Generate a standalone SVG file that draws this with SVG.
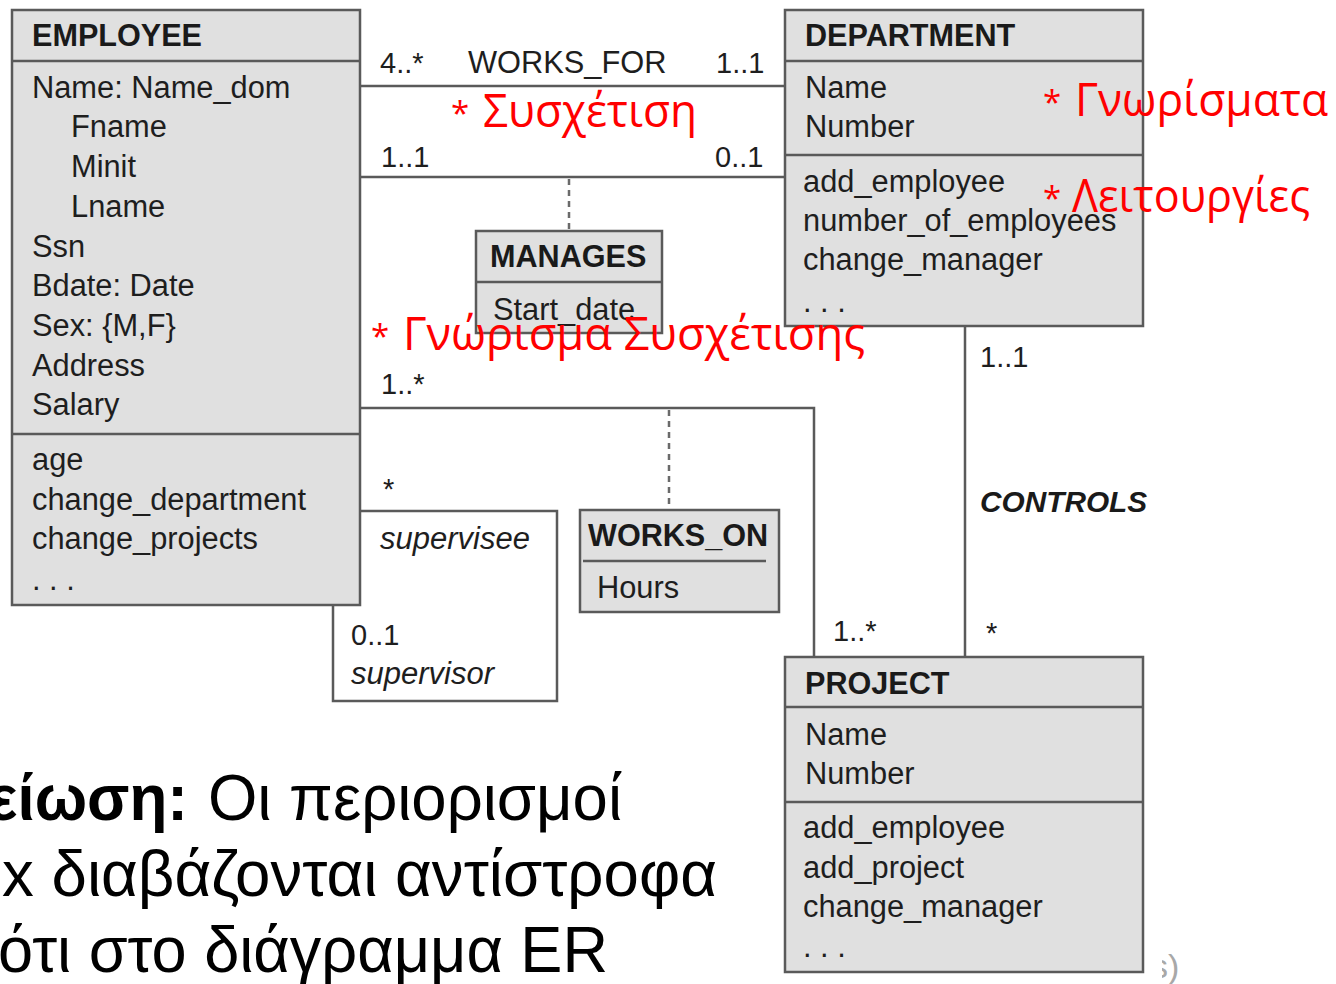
<svg xmlns="http://www.w3.org/2000/svg" width="1336" height="984" viewBox="0 0 1336 984">
  <defs>
    <style>
      .box { fill: #e0e0e0; stroke: #5a5a5a; stroke-width: 2.5; }
      .div { stroke: #5a5a5a; stroke-width: 2.5; fill: none; }
      .wire { stroke: #5a5a5a; stroke-width: 2.5; fill: none; }
      .dash { stroke: #6a6a6a; stroke-width: 2.5; fill: none; stroke-dasharray: 6 5; }
      .t { font-family: "Liberation Sans", Arial, sans-serif; font-size: 30.8px; fill: #1e1e1e; }
      .title { font-family: "Liberation Sans", Arial, sans-serif; font-size: 30.6px; font-weight: bold; fill: #1a1a1a; }
      .m { font-family: "Liberation Sans", Arial, sans-serif; font-size: 29px; fill: #1e1e1e; }
      .it { font-family: "Liberation Sans", Arial, sans-serif; font-size: 31px; font-style: italic; fill: #1e1e1e; }
      .bi { font-family: "Liberation Sans", Arial, sans-serif; font-size: 29.8px; font-style: italic; font-weight: bold; fill: #1a1a1a; }
      .red { font-family: "Open Sans", "Noto Sans", sans-serif; font-size: 46px; fill: #ff0000; }
      .star { font-family: "Open Sans", "Noto Sans", sans-serif; font-size: 33px; fill: #ff0000; }
      .note { font-family: "Liberation Sans", Arial, sans-serif; font-size: 65px; fill: #000; }
      .noteb { font-family: "Liberation Sans", Arial, sans-serif; font-size: 65px; font-weight: bold; fill: #000; }
    </style>
    <clipPath id="clipTail">
      <rect x="1162" y="900" width="60" height="84"/>
    </clipPath>
  </defs>

  <rect width="1336" height="984" fill="#ffffff"/>

  <!-- connectors -->
  <g id="connectors">
    <line class="wire" x1="360" y1="86" x2="785" y2="86"/>
    <line class="wire" x1="360" y1="177" x2="785" y2="177"/>
    <line class="dash" x1="569" y1="179" x2="569" y2="231"/>
    <polyline class="wire" points="360,408 814,408 814,657"/>
    <line class="dash" x1="669" y1="410" x2="669" y2="510"/>
    <line class="wire" x1="965" y1="326" x2="965" y2="657"/>
    <polyline class="wire" points="360,511 557,511 557,701 333,701 333,605"/>

    <text class="m" x="380" y="73">4..*</text>
    <text class="t" x="468" y="73" font-size="32.5">WORKS_FOR</text>
    <text class="m" x="716" y="73">1..1</text>
    <text class="m" x="381" y="167">1..1</text>
    <text class="m" x="715" y="167">0..1</text>
    <text class="m" x="381" y="394">1..*</text>
    <text class="m" x="383" y="499">*</text>
    <text class="it" x="380" y="549">supervisee</text>
    <text class="m" x="351" y="645">0..1</text>
    <text class="it" x="351" y="684">supervisor</text>
    <text class="m" x="833" y="641">1..*</text>
    <text class="m" x="980" y="367">1..1</text>
    <text class="bi" x="980" y="512">CONTROLS</text>
    <text class="m" x="986" y="643">*</text>
  </g>

  <!-- EMPLOYEE class -->
  <g id="employee">
    <rect class="box" x="12" y="10" width="348" height="595"/>
    <line class="div" x1="12" y1="61" x2="360" y2="61"/>
    <line class="div" x1="12" y1="434" x2="360" y2="434"/>
    <text class="title" x="32" y="46">EMPLOYEE</text>
    <text class="t" x="32" y="98">Name: Name_dom</text>
    <text class="t" x="71" y="137">Fname</text>
    <text class="t" x="71" y="177">Minit</text>
    <text class="t" x="71" y="217">Lname</text>
    <text class="t" x="32" y="257">Ssn</text>
    <text class="t" x="32" y="296">Bdate: Date</text>
    <text class="t" x="32" y="336">Sex: {M,F}</text>
    <text class="t" x="32" y="376">Address</text>
    <text class="t" x="32" y="415">Salary</text>
    <text class="t" x="32" y="470">age</text>
    <text class="t" x="32" y="510">change_department</text>
    <text class="t" x="32" y="549">change_projects</text>
    <text class="t" x="32" y="590">. . .</text>
  </g>

  <!-- DEPARTMENT class -->
  <g id="department">
    <rect class="box" x="785" y="10" width="358" height="316"/>
    <line class="div" x1="785" y1="61" x2="1143" y2="61"/>
    <line class="div" x1="785" y1="155" x2="1143" y2="155"/>
    <text class="title" x="805" y="46">DEPARTMENT</text>
    <text class="t" x="805" y="98">Name</text>
    <text class="t" x="805" y="137">Number</text>
    <text class="t" x="803" y="192">add_employee</text>
    <text class="t" x="803" y="231">number_of_employees</text>
    <text class="t" x="803" y="270">change_manager</text>
    <text class="t" x="803" y="312">. . .</text>
  </g>

  <!-- PROJECT class -->
  <g id="project">
    <rect class="box" x="785" y="657" width="358" height="315"/>
    <line class="div" x1="785" y1="707" x2="1143" y2="707"/>
    <line class="div" x1="785" y1="802" x2="1143" y2="802"/>
    <text class="title" x="805" y="694">PROJECT</text>
    <text class="t" x="805" y="745">Name</text>
    <text class="t" x="805" y="784">Number</text>
    <text class="t" x="803" y="838">add_employee</text>
    <text class="t" x="803" y="878">add_project</text>
    <text class="t" x="803" y="917">change_manager</text>
    <text class="t" x="803" y="957">. . .</text>
  </g>

  <!-- MANAGES association class -->
  <g id="manages">
    <rect class="box" x="476" y="231" width="186" height="102"/>
    <line class="div" x1="476" y1="282" x2="662" y2="282"/>
    <text class="title" x="490" y="267">MANAGES</text>
    <text class="t" x="493" y="320">Start_date</text>
  </g>

  <!-- WORKS_ON association class -->
  <g id="works_on">
    <rect class="box" x="580" y="510" width="199" height="102"/>
    <line class="div" x1="583" y1="561" x2="766" y2="561"/>
    <text class="title" x="588" y="546">WORKS_ON</text>
    <text class="t" x="597" y="598">Hours</text>
  </g>

  <!-- annotations -->
  <g id="annotations">
    <text class="star" x="451" y="125">*</text>
    <text class="red" x="483" y="127" textLength="214" lengthAdjust="spacingAndGlyphs">Συσχέτιση</text>
    <text class="star" x="1043" y="114">*</text>
    <text class="red" x="1075" y="116" textLength="253" lengthAdjust="spacingAndGlyphs">Γνωρίσματα</text>
    <text class="star" x="1043" y="210">*</text>
    <text class="red" x="1072" y="212" textLength="238" lengthAdjust="spacingAndGlyphs">Λειτουργίες</text>
    <text class="star" x="371" y="348">*</text>
    <text class="red" x="403" y="350" textLength="462" lengthAdjust="spacingAndGlyphs">Γνώρισμα Συσχέτισης</text>
  </g>

  <!-- note text -->
  <g id="note">
    <text class="noteb" x="-12" y="820" textLength="200" lengthAdjust="spacingAndGlyphs">είωση:</text>
    <text class="note" x="208" y="820" textLength="414" lengthAdjust="spacingAndGlyphs">Οι περιορισμοί</text>
    <text class="note" x="2" y="896" textLength="715" lengthAdjust="spacingAndGlyphs">x διαβάζονται αντίστροφα</text>
    <text class="note" x="-2" y="972" textLength="610" lengthAdjust="spacingAndGlyphs">ότι στο διάγραμμα ER</text>
    <text x="1151" y="978" clip-path="url(#clipTail)" font-family="Liberation Sans, Arial, sans-serif" font-size="34" fill="#a8a8a8">s)</text>
  </g>
</svg>
